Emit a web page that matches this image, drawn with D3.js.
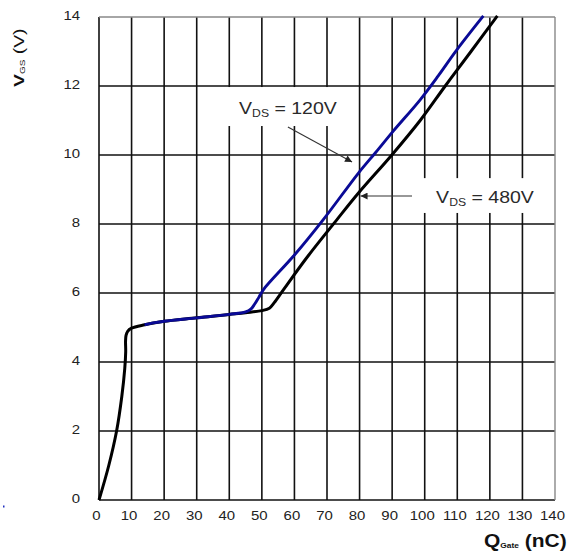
<!DOCTYPE html>
<html><head><meta charset="utf-8">
<script src="https://cdn.jsdelivr.net/npm/d3@7"></script>
<style>body{margin:0;background:#fff}svg{display:block}text{font-family:"Liberation Sans",Arial,sans-serif}</style>
</head><body>
<script>
// Data (Q in nC, VGS in V)
const xTicks = [0,10,20,30,40,50,60,70,80,90,100,110,120,130,140];
const yTicks = [0,2,4,6,8,10,12,14];
const q480 = [0,3.0,5.4,7.0,7.9,8.2,8.15,8.3,8.8,10.0,14,17.2,20,30,40,45,50,52.3,53.8,56.6,64,73,79.6,89.9,98.6,106.3,114.2,122.3];
const v480 = [0,1.0,2.0,3.0,3.8,4.3,4.6,4.77,4.89,4.98,5.08,5.14,5.18,5.28,5.38,5.43,5.49,5.56,5.72,6.09,7.05,8.12,8.89,10.0,11.0,12.0,13.0,14.03];
const q120 = [0,3.0,5.4,7.0,7.9,8.2,8.15,8.3,8.8,10.0,14,17.2,20,30,40,45,46.6,47.8,49.1,50.5,60,68.8,79.6,85,90.4,98.6,104.2,109.8,118];
const v120 = [0,1.0,2.0,3.0,3.8,4.3,4.6,4.77,4.89,4.98,5.08,5.14,5.18,5.28,5.38,5.45,5.53,5.68,5.88,6.1,7.1,8.12,9.47,10.08,10.7,11.6,12.3,13.04,14.03];
const labels = ["120V","480V"];
// annotation anchors in data units
const boxes = [{q0:34.7,q1:77.7,v0:11.97,v1:10.84},{q0:97,q1:139.4,v0:9.33,v1:8.32}];
const textPos = [{q:43,v:11.19},{q:103.5,v:8.61}];
const arrows = [{q0:58.0,v0:10.81,q1:77.7,v1:9.80},{q0:96.1,v0:8.81,q1:80.3,v1:8.81}];

const W=583,H=552;
const svg=d3.select("body").append("svg").attr("width",W).attr("height",H);
const x=d3.scaleLinear().domain([0,140]).range([99,555]);
const y=d3.scaleLinear().domain([0,14]).range([500,17]);

// grid
const g=svg.append("g");
g.selectAll("line.v").data(xTicks.filter(d=>d<140)).join("line")
 .attr("x1",d=>x(d)).attr("x2",d=>x(d)).attr("y1",y(0)).attr("y2",y(14))
 .attr("stroke","#111").attr("stroke-width",1.6);
g.selectAll("line.h").data(yTicks.filter(d=>d<14)).join("line")
 .attr("y1",d=>y(d)).attr("y2",d=>y(d)).attr("x1",x(0)).attr("x2",x(140))
 .attr("stroke","#111").attr("stroke-width",1.6);

// label boxes
svg.selectAll("rect.box").data(boxes).join("rect")
 .attr("x",d=>x(d.q0)).attr("y",d=>y(d.v0)).attr("width",d=>x(d.q1)-x(d.q0)).attr("height",d=>y(d.v1)-y(d.v0))
 .attr("fill","#fff");

// border top/right gray
svg.append("line").attr("x1",x(0)).attr("x2",x(140)).attr("y1",y(14)).attr("y2",y(14)).attr("stroke","#888").attr("stroke-width",1.4);
svg.append("line").attr("x1",x(140)).attr("x2",x(140)).attr("y1",y(0)).attr("y2",y(14)).attr("stroke","#888").attr("stroke-width",1.4);

// axes tick labels (slightly wide glyphs as in the reference)
svg.selectAll("text.yt").data(yTicks).join("text")
 .attr("transform",d=>`translate(80,${y(d)+2.5}) scale(1.15,1)`)
 .attr("text-anchor","end").attr("font-size",13).attr("fill","#222")
 .text(d=>d);
svg.selectAll("text.xt").data(xTicks).join("text")
 .attr("transform",d=>`translate(${x(d)-2.5},519.5) scale(1.15,1)`)
 .attr("text-anchor","middle").attr("font-size",13).attr("fill","#222")
 .text(d=>d);

// curves
const line=d3.line().x(d=>x(d[0])).y(d=>y(d[1])).curve(d3.curveCatmullRom.alpha(0.5));
svg.append("path").datum(q480.map((q,i)=>[q,v480[i]])).attr("d",line)
 .attr("fill","none").attr("stroke","#000").attr("stroke-width",3).attr("stroke-linejoin","round");
svg.append("path").datum(q120.map((q,i)=>[q,v120[i]]).filter(d=>d[0]>=13)).attr("d",line)
 .attr("fill","none").attr("stroke","#0a0a96").attr("stroke-width",2.9).attr("stroke-linejoin","round");

// arrows
const defs=svg.append("defs");
defs.append("marker").attr("id","ah").attr("viewBox","0 0 10 10").attr("refX",10).attr("refY",5)
 .attr("markerWidth",9).attr("markerHeight",7).attr("markerUnits","userSpaceOnUse").attr("orient","auto")
 .append("path").attr("d","M0,0L10,5L0,10Z").attr("fill","#222");
svg.selectAll("line.arr").data(arrows).join("line")
 .attr("x1",d=>x(d.q0)).attr("y1",d=>y(d.v0)).attr("x2",d=>x(d.q1)).attr("y2",d=>y(d.v1))
 .attr("stroke","#333").attr("stroke-width",1.1).attr("marker-end","url(#ah)");

// annotation text
textPos.forEach((p,i)=>{
  const t=svg.append("text").attr("transform",`translate(${x(p.q)},${y(p.v)}) scale(1.22,1)`)
   .attr("font-size",16).attr("fill","#2a2a2a");
  t.append("tspan").text("V");
  t.append("tspan").attr("font-size",10).attr("dy",3).text("DS");
  t.append("tspan").attr("dy",-3).text(" = "+labels[i]);
});

// y axis title
const yt=svg.append("text").attr("transform","translate(23.5,87) rotate(-90) scale(1.25,1)").attr("font-size",15.5).attr("fill","#111");
yt.append("tspan").attr("font-weight","bold").text("V");
yt.append("tspan").attr("font-size",8).attr("dy",1).text("GS");
yt.append("tspan").attr("dy",-1).text(" (V)");

// x axis title
const xt=svg.append("text").attr("transform","translate(484,547) scale(1.2,1)").attr("font-size",17.5).attr("font-weight","bold").attr("fill","#111");
xt.append("tspan").text("Q");
xt.append("tspan").attr("font-size",7).attr("dy",1).text("Gate");
xt.append("tspan").attr("dy",-1).text("  (nC)");

// stray dot
svg.append("rect").attr("x",3).attr("y",505.5).attr("width",1.5).attr("height",2).attr("fill","#2030c0");
</script>
</body></html>
